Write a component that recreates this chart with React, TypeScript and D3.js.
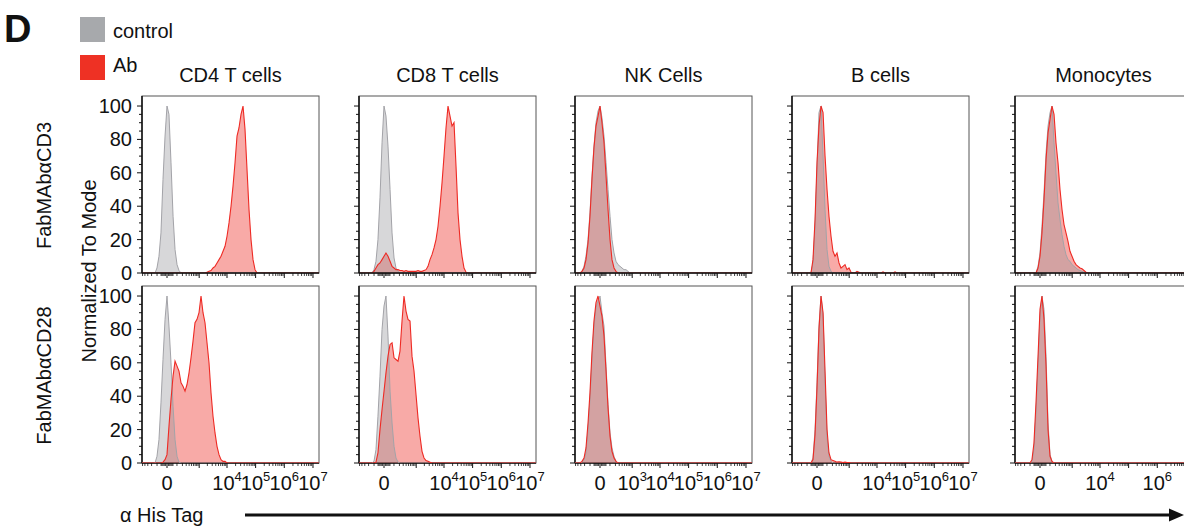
import React from "react";
import * as d3 from "d3";

// Bin centres (fluorescence intensity) shared by every histogram
const XS = [-325, -265, -213, -170, -132, -101, -74, -51, -31, -14, 0, 14, 31, 51, 74, 101, 132, 170, 213, 265, 325, 396, 479, 577, 691, 826, 984, 1170, 1387, 1643, 1944, 2296, 2710, 3196, 3767, 4437, 5224, 6148, 7233, 8507, 10002, 11758, 13820, 16240, 19082, 22419, 26337, 30937, 36338, 42680, 50126, 58868, 69133, 81185, 95336, 111950, 131458, 154363, 181256, 212831, 249905];

const COLUMNS = ["CD4 T cells", "CD8 T cells", "NK Cells", "B cells", "Monocytes"];
const ROWS = ["FabMAbαCD3", "FabMAbαCD28"];
const SERIES = ["control", "Ab"];
const Y_TICKS = [0, 20, 40, 60, 80, 100];
const X_TICK_LABELS = [
  [0, 1e4, 1e5, 1e6, 1e7],
  [0, 1e4, 1e5, 1e6, 1e7],
  [0, 1e3, 1e4, 1e5, 1e6, 1e7],
  [0, 1e4, 1e5, 1e6, 1e7],
  [0, 1e4, 1e6],
];

type Curve = { from: number; y: number[] };

// Row 1: FabMAbαCD3 (% of mode, starting at bin index `from`)
const CD3_CD4_CTRL: Curve = { from: 4, y: [0, 3, 10, 24, 56, 82, 100, 95, 66, 34, 14, 5, 1.5, 0] };
const CD3_CD4_AB: Curve = { from: 29, y: [0, 0.5, 1, 1.5, 3, 4, 6, 8, 10, 13, 16, 22, 30, 40, 52, 66, 82, 87, 95, 100, 86, 62, 38, 20, 8, 2, 0] };
const CD3_CD8_CTRL: Curve = { from: 4, y: [0, 2, 7, 20, 45, 78, 100, 94, 76, 50, 24, 9, 3, 1, 0] };
const CD3_CD8_AB: Curve = { from: 4, y: [0, 1, 3, 5, 6, 8, 10, 12, 10, 7, 4, 3, 2, 2, 1.5, 1.5, 1, 1.5, 1, 1, 1, 1, 1, 1.5, 1, 1, 1.5, 2, 4, 8, 11, 15, 20, 28, 40, 54, 70, 87, 100, 94, 88, 90, 64, 36, 20, 10, 3, 0.5, 0] };
const CD3_NK_CTRL: Curve = { from: 0, y: [0, 1, 4, 10, 20, 36, 58, 76, 90, 97, 100, 93, 82, 66, 50, 34, 20, 12, 7, 5, 4, 3, 2, 2, 1, 0] };
const CD3_NK_AB: Curve = { from: 0, y: [0, 1, 3, 8, 18, 34, 56, 75, 88, 94, 100, 90, 78, 58, 38, 20, 8, 3, 1, 0] };
const CD3_B_CTRL: Curve = { from: 7, y: [0, 6, 28, 62, 96, 100, 70, 38, 14, 4, 1, 0] };
const CD3_B_AB: Curve = { from: 7, y: [0, 8, 32, 66, 88, 100, 96, 70, 50, 34, 22, 13, 10, 12, 6, 3, 4, 5, 2, 3, 0.5, 0, 0, 1, 0.5, 0, 0, 0, 0, 0, 0, 0, 0, 0, 0, 0, 0.7, 0, 0, 0, 0, 0, 0.7, 0] };
const CD3_MONO_CTRL: Curve = { from: 8, y: [0, 4, 12, 28, 48, 72, 88, 96, 100, 78, 60, 42, 32, 23, 16, 11, 8, 7, 5, 4, 3, 2, 1.5, 1, 0.5, 0] };
const CD3_MONO_AB: Curve = { from: 8, y: [0, 3, 10, 24, 44, 68, 84, 92, 100, 95, 78, 66, 50, 38, 29, 24, 19, 13, 10, 7, 5, 4, 3, 2.5, 1.5, 0.5, 0] };

// Row 2: FabMAbαCD28
const CD28_CD4_CTRL: Curve = { from: 4, y: [0, 4, 14, 36, 62, 86, 100, 82, 60, 34, 14, 4, 0.5, 0] };
const CD28_CD4_AB: Curve = { from: 7, y: [0, 0.5, 2, 5, 22, 38, 52, 61, 58, 55, 48, 46, 43, 47, 54, 63, 73, 84, 86, 90, 100, 90, 84, 72, 60, 42, 28, 18, 10, 5, 2, 1, 1, 0] };
const CD28_CD8_CTRL: Curve = { from: 4, y: [0, 1, 8, 28, 52, 80, 94, 100, 76, 43, 24, 10, 3, 0.5, 0] };
const CD28_CD8_AB: Curve = { from: 5, y: [0, 0.5, 6, 20, 32, 43, 54, 64, 71, 72, 63, 62, 61, 67, 85, 100, 91, 86, 85, 64, 55, 41, 27, 16, 7, 3, 1.5, 1, 0.5, 0] };
const CD28_NK_CTRL: Curve = { from: 0, y: [0, 0.5, 2, 6, 20, 38, 62, 82, 93, 97, 100, 90, 82, 58, 35, 18, 9, 4, 1, 0] };
const CD28_NK_AB: Curve = { from: 0, y: [0, 1, 3, 9, 24, 42, 66, 85, 96, 100, 94, 88, 76, 55, 33, 16, 7, 3, 1, 0] };
const CD28_B_CTRL: Curve = { from: 7, y: [0, 3, 20, 48, 82, 100, 88, 48, 15, 4, 1, 0] };
const CD28_B_AB: Curve = { from: 7, y: [0, 2, 17, 45, 80, 100, 90, 55, 20, 6, 2, 1.5, 1, 0.5, 0.7, 0.5, 0.3, 0.5, 0.3, 0.3, 0] };
const CD28_MONO_CTRL: Curve = { from: 5, y: [0, 1, 8, 30, 58, 88, 100, 92, 64, 24, 5, 1, 0] };
const CD28_MONO_AB: Curve = { from: 5, y: [0, 2, 12, 36, 64, 92, 100, 86, 58, 20, 4, 1, 0] };

const PANELS: [Curve, Curve][][] = [
  [[CD3_CD4_CTRL, CD3_CD4_AB], [CD3_CD8_CTRL, CD3_CD8_AB], [CD3_NK_CTRL, CD3_NK_AB], [CD3_B_CTRL, CD3_B_AB], [CD3_MONO_CTRL, CD3_MONO_AB]],
  [[CD28_CD4_CTRL, CD28_CD4_AB], [CD28_CD8_CTRL, CD28_CD8_AB], [CD28_NK_CTRL, CD28_NK_AB], [CD28_B_CTRL, CD28_B_AB], [CD28_MONO_CTRL, CD28_MONO_AB]],
];

const FONT = "'Liberation Sans', Arial, Helvetica, sans-serif";
const W = 177;
const H = 177;
const COL_X = [142, 359, 575, 792, 1015];
const ROW_Y = [96, 286];

const x = d3.scaleSymlog().constant(81.7).domain([-526, 1.62e7]).range([0, W]);
const y = d3.scaleLinear().domain([0, 106]).range([H, 0]);

const X_MINOR: number[] = (() => {
  const t: number[] = [-500, -400, -300, -200, -100, -50, -40, -30, -20, -10, 10, 20, 30, 40, 50];
  for (let k = 2; k <= 6; k++) for (let m = 1; m <= 9; m++) {
    const v = m * Math.pow(10, k);
    if (m !== 1 || k === 2) t.push(v);
  }
  return t;
})();
const X_MAJOR = [0, 1e3, 1e4, 1e5, 1e6, 1e7];
const Y_MINOR = d3.range(0, 101, 5);

function points(c: Curve): [number, number][] {
  const [d0, d1] = x.domain();
  const p: [number, number][] = [[d0, 0]];
  XS.forEach((v, i) => {
    const j = i - c.from;
    p.push([v, j >= 0 && j < c.y.length ? c.y[j] : 0]);
  });
  p.push([d1, 0]);
  return p;
}

const area = d3.area<[number, number]>().x((d) => x(d[0])).y0(H).y1((d) => y(d[1]));
const line = d3.line<[number, number]>().x((d) => x(d[0])).y((d) => y(d[1]));

function Panel({ r, c }: { r: number; c: number }) {
  const [ctrl, ab] = PANELS[r][c];
  const pc = points(ctrl);
  const pa = points(ab);
  const id = `clip-${r}-${c}`;
  const curves = (
    <g clipPath={`url(#${id})`}>
      <path d={area(pa) || ""} fill="rgba(238,42,36,0.40)" />
      <path d={area(pc) || ""} fill="rgba(150,150,156,0.38)" />
      <path d={line(pc) || ""} fill="none" stroke="#a3a3a8" strokeWidth={1} />
      <path d={line(pa) || ""} fill="none" stroke="#ee2a24" strokeWidth={1.1} />
    </g>
  );
  const axes = (
    <g>
      <line x1={0} x2={0} y1={0} y2={H} stroke="#111" strokeWidth={1.5} />
      <line x1={0} x2={W} y1={H} y2={H} stroke="#111" strokeWidth={1.5} />
      {Y_MINOR.map((t) => (
        <line key={"ym" + t} x1={t % 20 === 0 ? -5 : -3} x2={0} y1={y(t)} y2={y(t)} stroke="#111" strokeWidth={1} />
      ))}
      {X_MINOR.map((t) => (
        <line key={"xm" + t} x1={x(t)} x2={x(t)} y1={H} y2={H + 3} stroke="#111" strokeWidth={0.8} />
      ))}
      {X_MAJOR.map((t) => (
        <line key={"xM" + t} x1={x(t)} x2={x(t)} y1={H} y2={H + 5} stroke="#111" strokeWidth={1} />
      ))}
    </g>
  );
  return (
    <g transform={`translate(${COL_X[c]},${ROW_Y[r]})`}>
      <defs>
        <clipPath id={id}>
          <rect x={0} y={0} width={W} height={H} />
        </clipPath>
      </defs>
      <rect x={0} y={0} width={W} height={H} fill="#fff" stroke="#555" strokeWidth={1} />
      {r === 0 ? (
        <>
          {curves}
          {axes}
        </>
      ) : (
        <>
          {axes}
          {curves}
        </>
      )}
      {c === 0 &&
        Y_TICKS.map((t) => (
          <text key={"yl" + t} x={-10} y={y(t)} dy="0.35em" textAnchor="end" fontSize={20} fontFamily={FONT} fill="#111">
            {t}
          </text>
        ))}
      {r === 1 &&
        X_TICK_LABELS[c].map((t) => (
          <text key={"xl" + t} x={x(t)} y={H + 27} textAnchor="middle" fontSize={20} fontFamily={FONT} fill="#111">
            {t === 0 ? "0" : (
              <>
                10
                <tspan dy={-9} fontSize={13}>{Math.round(Math.log10(t))}</tspan>
              </>
            )}
          </text>
        ))}
    </g>
  );
}

export default function App() {
  return (
    <svg width={1184} height={528} style={{ position: "absolute", left: 0, top: 0, background: "#fff" }} fontFamily={FONT}>
      <rect x={0} y={0} width={1184} height={528} fill="#fff" />
      <text x={4} y={42} fontSize={38} fontWeight="bold" fill="#111">D</text>
      <rect x={80} y={17} width={25} height={25} fill="#a7a9ac" />
      <rect x={80} y={55} width={25} height={25} fill="#ee3124" />
      <text x={113} y={38} fontSize={20} fill="#111">{SERIES[0]}</text>
      <text x={113} y={72} fontSize={20} fill="#111">{SERIES[1]}</text>
      {COLUMNS.map((t, c) => (
        <text key={t} x={COL_X[c] + W / 2} y={82} textAnchor="middle" fontSize={20} fill="#111">{t}</text>
      ))}
      {ROWS.map((t, r) => (
        <text key={t} transform={`translate(51,${ROW_Y[r] + H / 2 + 1}) rotate(-90)`} textAnchor="middle" fontSize={20} fill="#111">{t}</text>
      ))}
      <text transform={`translate(96,271) rotate(-90)`} textAnchor="middle" fontSize={20} fill="#111">Normalized To Mode</text>
      {PANELS.map((row, r) => row.map((_, c) => <Panel key={`${r}-${c}`} r={r} c={c} />))}
      <text x={120} y={522} fontSize={20} fill="#111">α His Tag</text>
      <line x1={245} y1={515} x2={1172} y2={515} stroke="#111" strokeWidth={3} />
      <path d="M1184,515 L1169,508.5 L1169,521.5 Z" fill="#111" />
    </svg>
  );
}
